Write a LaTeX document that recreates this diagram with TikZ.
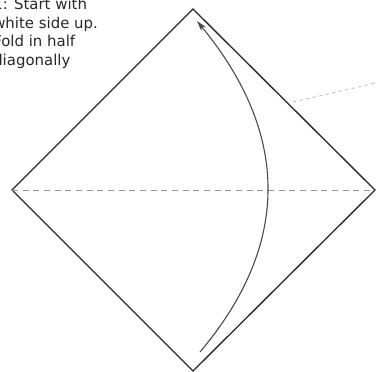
\documentclass[tikz,border=0pt]{standalone}
\usepackage{fontspec}
\setmainfont{DejaVu Sans}
\usetikzlibrary{arrows.meta, positioning}
\definecolor{mydark}{RGB}{40,40,40}
\definecolor{myarc}{RGB}{70,70,70}
\definecolor{mydash}{RGB}{150,150,150}
\definecolor{myfaint}{RGB}{185,185,185}
\tikzset{
  paper/.style={draw=mydark, line width=1pt, line join=miter},
  foldline/.style={draw=mydash, dashed, dash pattern=on 4.5pt off 3.5pt, line width=0.6pt},
  guideline/.style={draw=myfaint, dash pattern=on 2.5pt off 2.5pt, line width=0.6pt},
  foldarrow/.style={-{Stealth[length=8pt, width=4.5pt]}, draw=myarc, line width=0.8pt},
  steptext/.style={font=\fontsize{11.2}{13.9}\selectfont, align=left, inner sep=0pt, text=mydark}
}
\begin{document}
\begin{tikzpicture}[x=0.75pt, y=-0.75pt]
  \clip (0,0) rectangle (376,372);
  % corners of the square
  \coordinate (top) at (193,9);
  \coordinate (left) at (12,190);
  \coordinate (right) at (375,190);
  \coordinate (bottom) at (193,371);
  \draw[paper] (top) -- (right) -- (bottom) -- (left) -- cycle;
  \draw[foldline] (left) -- (right);
  % fold arrow
  \coordinate (from) at (200,352);
  \coordinate (to) at (197,21);
  \draw[foldarrow] (from) .. controls (291,244) and (290,134) .. (to);
  % guide to the next step
  \coordinate (gstart) at (293,102);
  \coordinate (gend) at (380,82);
  \draw[guideline] (gstart) -- (gend);
  \node[steptext, anchor=north west] (label) at (-7,-2)
    {1: Start with\\white side up.\\Fold in half\\diagonally};
\end{tikzpicture}
\end{document}
